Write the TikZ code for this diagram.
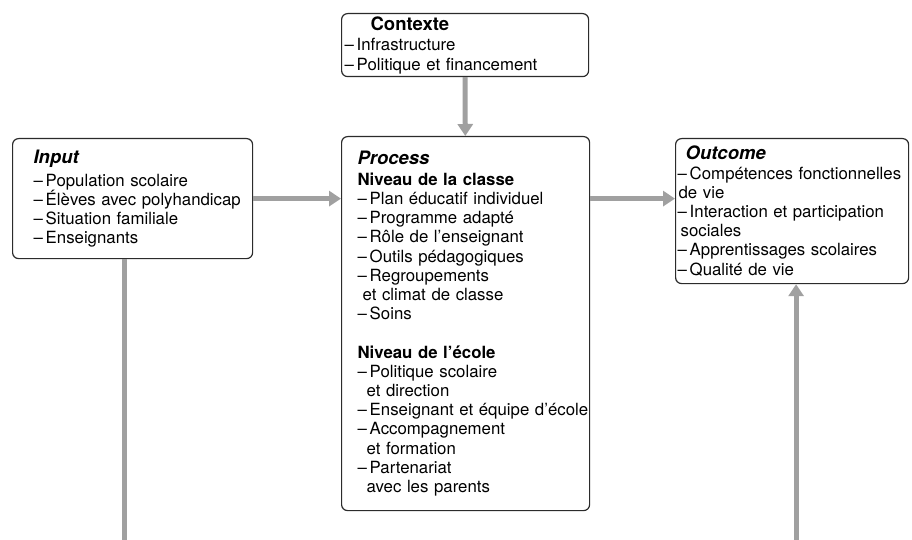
\documentclass[tikz,border=0pt]{standalone}
\usepackage{fontspec}
\setmainfont{TeX Gyre Heros}
\usetikzlibrary{arrows.meta}
\definecolor{flowgray}{HTML}{A0A0A0}
\definecolor{boxline}{HTML}{2B2B2B}
\newcommand{\itm}[1]{\mbox{\textendash\,#1}}
\newcommand{\cnt}[1][5pt]{\hspace*{#1}}
\newcommand{\ttl}[1]{{\fontsize{18.5}{19.2}\selectfont\bfseries #1}}

\begin{document}
\begin{tikzpicture}[x=1pt, y=-1pt,
    every node/.style={font=\fontsize{16.8}{19.2}\selectfont},
    box/.style={draw=boxline, line width=1.2pt, rounded corners=6pt,
                anchor=north west, align=left, inner ysep=0pt},
    flow/.style={draw=flowgray, line width=5pt,
                 -{Triangle[width=15pt,length=12pt]}}]
  \useasboundingbox (0,0) rectangle (912,540);

  % boxes
  \node[box, minimum width=247pt, minimum height=63pt, inner xsep=3pt,
        text width=241pt] (ctx) at (341,13)
        {\cnt[26pt]\ttl{Contexte}\\[1.5pt]
         \itm{Infrastructure}\\
         \itm{Politique et financement}};
  \node[box, minimum width=240pt, minimum height=120pt, inner xsep=21pt,
        text width=198pt] (inp) at (12,138)
        {\ttl{\itshape Input}\\[3.5pt]
         \itm{Population scolaire}\\
         \itm{Élèves avec polyhandicap}\\
         \itm{Situation familiale}\\
         \itm{Enseignants}};
  \node[box, minimum width=248pt, minimum height=374pt, inner xsep=16pt,
        text width=216pt] (proc) at (341,136)
        {\ttl{\itshape Process}\\[1.5pt]
         \textbf{Niveau de la classe}\\
         \itm{Plan éducatif individuel}\\
         \itm{Programme adapté}\\
         \itm{Rôle de l’enseignant}\\
         \itm{Outils pédagogiques}\\
         \itm{Regroupements}\\
         \cnt et climat de classe\\
         \itm{Soins}\\[19.2pt]
         \textbf{Niveau de l’école}\\
         \itm{Politique scolaire}\\
         \cnt[9pt]et direction\\
         \itm{Enseignant et équipe d’école}\\
         \itm{Accompagnement}\\
         \cnt[9pt]et formation\\
         \itm{Partenariat}\\
         \cnt[9pt]avec les parents};
  \node[box, minimum width=233pt, minimum height=145pt, inner xsep=2pt,
        text width=229pt] (out) at (675,138)
        {\cnt[8pt]\ttl{\itshape Outcome}\\
         \itm{Compétences fonctionnelles}\\
         \cnt[1pt]de vie\\
         \itm{Interaction et participation}\\
         \cnt[3pt]sociales\\
         \itm{Apprentissages scolaires}\\
         \itm{Qualité de vie}};

  % connectors
  \coordinate (fb) at (460,543);
  \draw[flow] (ctx) -- (proc);
  \draw[flow] (inp.east) -- (inp.east -| proc.west);
  \draw[flow] (inp.east -| proc.east) -- (inp.east -| out.west);
  \draw[flow] ([xshift=-8.5pt]inp.south) |- (fb) -| ([xshift=4pt]out.south);
\end{tikzpicture}
\end{document}
